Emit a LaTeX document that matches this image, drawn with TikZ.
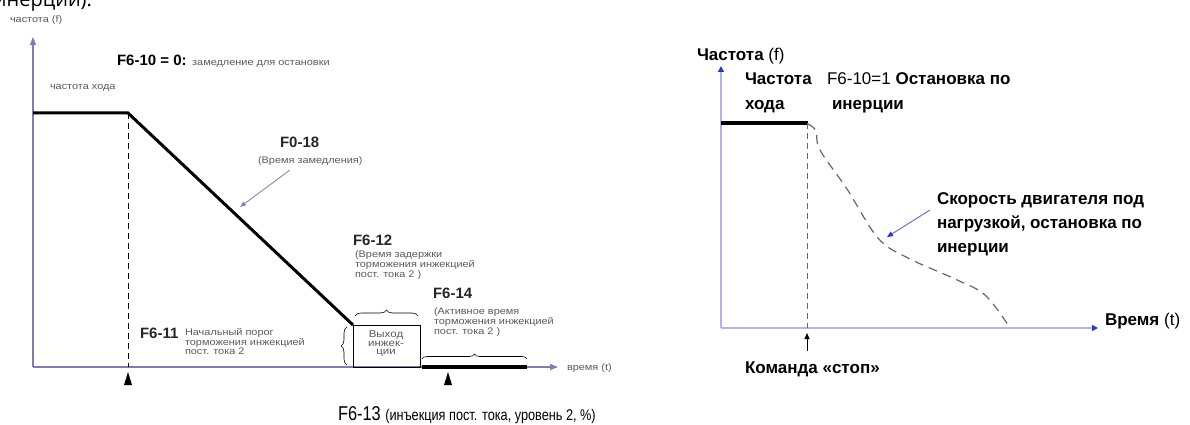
\documentclass[tikz,border=0pt]{standalone}
\usepackage{fontspec}
\setmainfont{Liberation Sans}
\newfontfamily\narrowfont[FakeStretch=0.82]{Liberation Sans}
\newfontfamily\widefont[FakeStretch=1.15]{Liberation Sans}
\newfontfamily\headfont{Open Sans}
\usetikzlibrary{arrows.meta, decorations.pathreplacing, calc}
\definecolor{ejeL}{RGB}{125,125,185}
\definecolor{ejeR}{RGB}{175,180,235}
\definecolor{azul}{RGB}{40,55,205}
\definecolor{gristxt}{RGB}{90,90,90}

\begin{document}
\begin{tikzpicture}[x=1pt, y=-1pt,
  every node/.style={inner sep=0pt, outer sep=0pt},
  flecha/.style={-{Triangle[length=8pt, width=6pt]}},
  pequeno/.style={font=\widefont\fontsize{9.5}{8.5}\selectfont, text=gristxt, align=left},
  etiq/.style={font=\bfseries\fontsize{15}{17}\selectfont, text=black!85},
  grande/.style={font=\fontsize{17}{24}\selectfont, align=left},
  negrita/.style={font=\bfseries\fontsize{17}{24}\selectfont, align=left}]
\useasboundingbox (0,0) rectangle (1190,425);

% fragmento del texto de arriba
\node[anchor=base west, font=\headfont\fontsize{20}{22}\selectfont] (frag) at (-6,7) {инерции).};

% ---------- grafico izquierdo: F6-10 = 0 ----------
\coordinate (oL) at (33,367);
\coordinate (yL) at (33,37);
\coordinate (xL) at (558,367);
\draw[ejeL, line width=1.2pt, flecha] (oL) -- (yL);
\draw[ejeL, line width=1.2pt, flecha] (oL) -- (xL);
% perfil de frecuencia
\coordinate (a1) at (33,113);
\coordinate (a2) at (128,113);
\coordinate (a3) at (353,325);
\draw[line width=3pt, line join=miter] (a1) -- (a2) -- (a3);
\draw[line width=1pt, dash pattern=on 6pt off 4pt] (a2) -- (128,367);
% caja de inyeccion
\draw[line width=1pt] (353,325) rectangle (420,367);
\node[pequeno, align=center, font=\widefont\fontsize{10}{8.5}\selectfont] (caja) at (386,344) {Выход\\инжек-\\ции};
\draw[line width=4pt] (422,367) -- (527,367);
% llaves
\draw[line width=0.6pt, decorate, decoration={brace, amplitude=6pt}] (355,316) -- (418,316);
\draw[line width=0.6pt, decorate, decoration={brace, amplitude=6pt}] (347,365) -- (347,327);
\draw[line width=0.6pt, decorate, decoration={brace, amplitude=5pt}] (422,359) -- (527,359);
% marcas
\fill (128,372) -- (124,385) -- (132,385) -- cycle;
\fill (448,372) -- (444,385) -- (452,385) -- cycle;
% textos
\node[pequeno, anchor=base west] (fL) at (10,23) {частота (f)};
\node[pequeno, anchor=base west] (hodL) at (50,90) {частота хода};
\node[anchor=base west] (modoL) at (117,66) {\bfseries\fontsize{15}{17}\selectfont F6-10 = 0: \widefont\mdseries\fontsize{9.5}{10}\selectfont\color{gristxt} замедление для остановки};
\node[etiq, anchor=base west] (f018) at (280,147) {F0-18};
\node[pequeno, anchor=base west] (f018t) at (258,163) {(Время замедления)};
\coordinate (f018p) at (240,207);
\draw[ejeL, line width=0.8pt, -{Triangle[length=6pt, width=4pt]}] (290,170) -- (f018p);
\node[etiq, anchor=base west] (f612) at (353,245) {F6-12};
\node[pequeno, anchor=north west] (f612t) at (355,251) {(Время задержки\\торможения инжекцией\\пост. тока 2 )};
\node[etiq, anchor=base west] (f614) at (433,298) {F6-14};
\node[pequeno, anchor=north west] (f614t) at (434,308) {(Активное время\\торможения инжекцией\\пост. тока 2 )};
\node[etiq, anchor=base west] (f611) at (140,338) {F6-11};
\node[pequeno, anchor=north west] (f611t) at (185,328) {Начальный порог\\торможения инжекцией\\пост. тока 2};
\node[pequeno, anchor=base west] (tL) at (567,370) {время (t)};
\node[anchor=base west] (f613) at (338,420) {\narrowfont\fontsize{20}{22}\selectfont F6-13 \fontsize{15.5}{17}\selectfont(инъекция пост. тока, уровень 2, \%)};

% ---------- grafico derecho: F6-10 = 1 ----------
\coordinate (oR) at (721,328);
\coordinate (yR) at (721,66);
\coordinate (xR) at (1098,328);
\draw[ejeR, line width=1.5pt, -{Triangle[length=6pt, width=6pt, fill=azul, color=azul]}] (oR) -- (yR);
\draw[ejeR, line width=1.5pt, -{Triangle[length=6pt, width=6pt, fill=azul, color=azul]}] (oR) -- (xR);
\coordinate (b1) at (721,123);
\coordinate (b2) at (808,123);
\draw[line width=3pt] (b1) -- (b2);
\draw[gray!80!black, line width=1pt, dash pattern=on 6pt off 4pt] (807,123) -- (807,328);
\draw[gray!80!black, line width=1.2pt, dash pattern=on 9pt off 6pt] plot[smooth, tension=0.6] coordinates {(808,124) (816,131) (820,150) (847,189) (878,238) (908,258) (955,279) (985,295) (1008,325)};
% textos
\node[grande, anchor=base west] (fR) at (697,61) {\bfseries Частота \mdseries(f)};
\node[negrita, anchor=north west, font=\bfseries\fontsize{17}{25}\selectfont] (hodR) at (745,72.5) {Частота\\хода};
\node[grande, anchor=base west] (modoR) at (827,85) {F6-10=1 \bfseries Остановка по};
\node[negrita, anchor=base west] (modoR2) at (832,110) {инерции};
\node[negrita, anchor=north west] (vel) at (937,192.5) {Скорость двигателя под\\нагрузкой, остановка по\\инерции};
\coordinate (velp) at (887,237);
\draw[azul!70, line width=1pt, -{Triangle[length=6pt, width=5pt, fill=azul, color=azul]}] (930,210) -- (velp);
\node[grande, anchor=base west] (tR) at (1105,325) {\bfseries Время \mdseries(t)};
\node[negrita, anchor=base west] (stop) at (745,373) {Команда «стоп»};
\coordinate (stopA) at (807,351);
\coordinate (stopB) at (807,333);
\draw[line width=1pt, -{Triangle[length=6pt, width=5pt]}] (stopA) -- (stopB);
\end{tikzpicture}
\end{document}
